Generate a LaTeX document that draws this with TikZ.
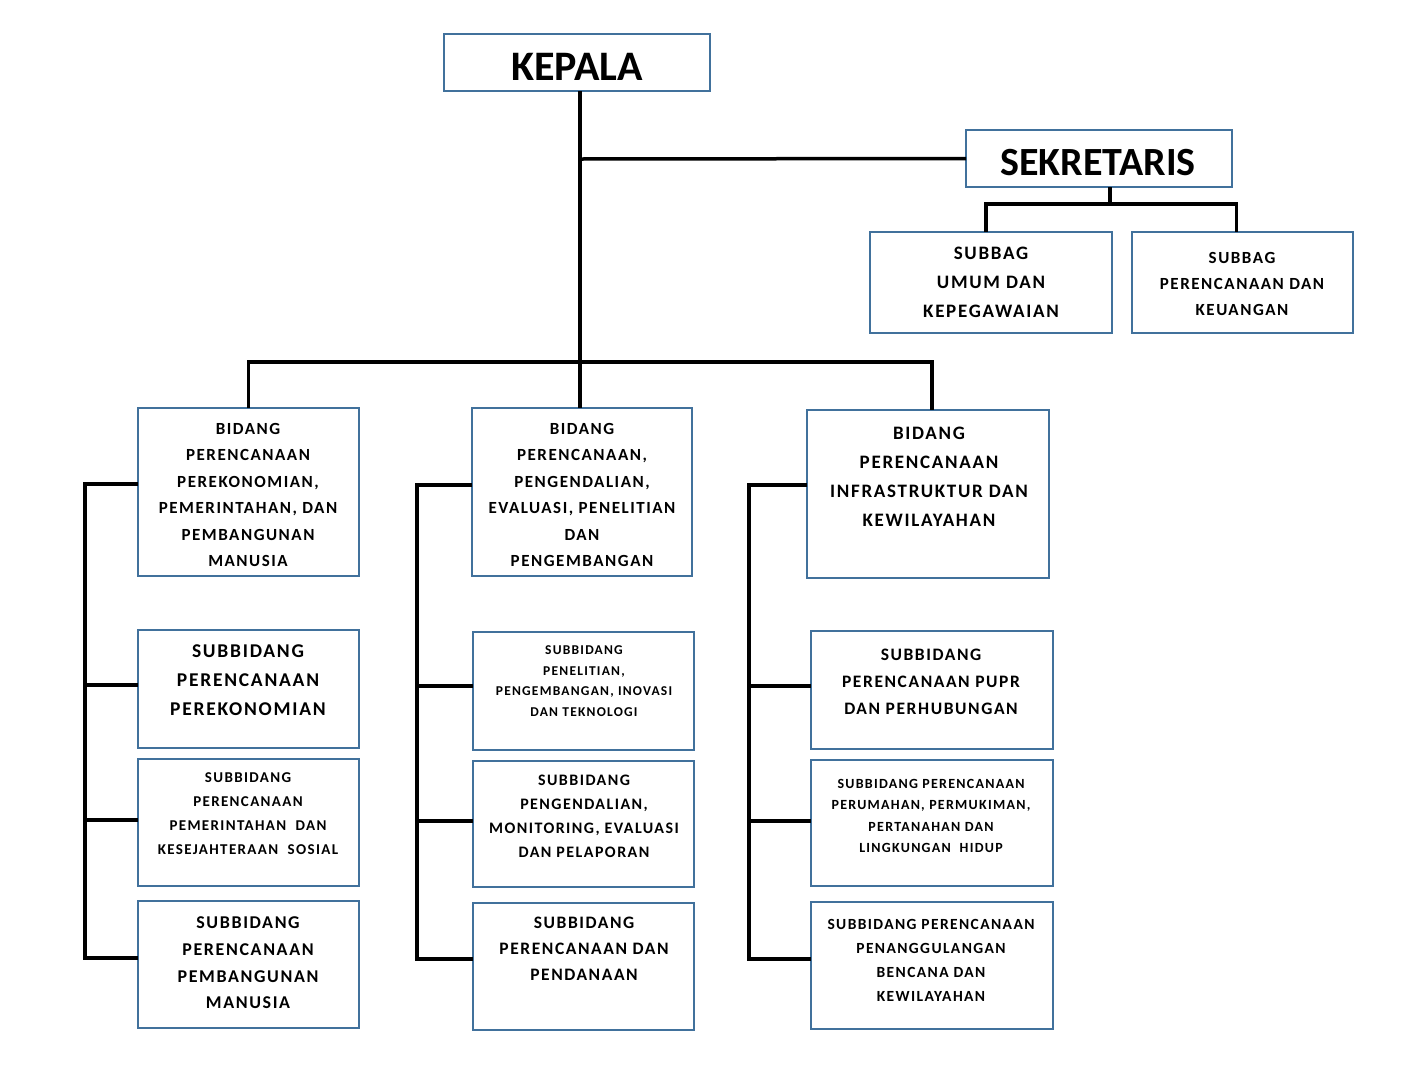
\documentclass[tikz,border=0pt]{standalone}
\usepackage{fontspec}
\setmainfont{Carlito}
\newfontfamily\lsfont{Carlito}[LetterSpace=9]
\definecolor{bxblue}{HTML}{41719C}
\tikzset{
  bx/.style={draw=bxblue, line width=2pt, fill=white, inner sep=0pt, outer sep=0pt},
  txt/.style={inner sep=0pt, align=center},
  conn/.style={line width=3.5pt, black},
}
\newcommand{\fs}[2]{\lsfont\bfseries\fontsize{#1}{#2}\selectfont}
% \mkbox{name}{x1}{y1}{x2}{y2}
\newcommand{\mkbox}[5]{%
  \pgfmathsetmacro{\bw}{#4-#2}\pgfmathsetmacro{\bh}{#5-#3}%
  \pgfmathsetmacro{\bcx}{(#2+#4)/2}\pgfmathsetmacro{\bcy}{(#3+#5)/2}%
  \node[bx, minimum width=\bw pt, minimum height=\bh pt] (#1) at (\bcx,\bcy) {};}
\begin{document}
\begin{tikzpicture}[x=1pt,y=-1pt]
\useasboundingbox[fill=white] (0,0) rectangle (1402,1090);
% boxes
\mkbox{kepala}{444}{34}{710}{91}
\mkbox{sek}{966}{130}{1232}{187}
\mkbox{sb1}{870}{232}{1112}{333}
\mkbox{sb2}{1132}{232}{1353}{333}
\mkbox{b1}{138}{408}{359}{576}
\mkbox{b2}{472}{408}{692}{576}
\mkbox{b3}{807}{410}{1049}{578}
\mkbox{s11}{138}{630}{359}{748}
\mkbox{s12}{138}{759}{359}{886}
\mkbox{s13}{138}{901}{359}{1028}
\mkbox{s21}{473}{632}{694}{750}
\mkbox{s22}{473}{761}{694}{887}
\mkbox{s23}{473}{903}{694}{1030}
\mkbox{s31}{811}{631}{1053}{749}
\mkbox{s32}{811}{760}{1053}{886}
\mkbox{s33}{811}{902}{1053}{1029}
% texts
\node[txt, font=\bfseries\fontsize{42}{48}\selectfont] (kepala-t) at (577,67) {KEPALA};
\node[txt, font=\bfseries\fontsize{40}{44}\selectfont] (sek-t) at (1098,163) {SEKRETARIS};
\node[txt, font=\fs{19}{29}] (sb1-t) at (991,282) {SUBBAG\\UMUM DAN\\KEPEGAWAIAN};
\node[txt, font=\fs{17}{26}] (sb2-t) at (1242,284) {SUBBAG\\PERENCANAAN DAN\\KEUANGAN};
\node[txt, font=\fs{17}{26.4}] (b1-t) at (248,495) {BIDANG\\PERENCANAAN\\PEREKONOMIAN,\\PEMERINTAHAN, DAN\\PEMBANGUNAN\\MANUSIA};
\node[txt, font=\fs{17}{26.4}] (b2-t) at (582,495) {BIDANG\\PERENCANAAN,\\PENGENDALIAN,\\EVALUASI, PENELITIAN\\DAN\\PENGEMBANGAN};
\node[txt, font=\fs{19}{29}] (b3-t) at (929,477) {BIDANG\\PERENCANAAN\\INFRASTRUKTUR DAN\\KEWILAYAHAN};
\node[txt, font=\fs{19.5}{29}] (s11-t) at (248,680) {SUBBIDANG\\PERENCANAAN\\PEREKONOMIAN};
\node[txt, font=\fs{15}{24}] (s12-t) at (248,814) {SUBBIDANG\\PERENCANAAN\\PEMERINTAHAN\ \ DAN\\KESEJAHTERAAN\ \ SOSIAL};
\node[txt, font=\fs{18}{26.7}] (s13-t) at (248,963) {SUBBIDANG\\PERENCANAAN\\PEMBANGUNAN\\MANUSIA};
\node[txt, font=\fs{13.5}{20.7}] (s21-t) at (584,681) {SUBBIDANG\\PENELITIAN,\\PENGEMBANGAN, INOVASI\\DAN TEKNOLOGI};
\node[txt, font=\fs{16}{24}] (s22-t) at (584,816) {SUBBIDANG\\PENGENDALIAN,\\MONITORING, EVALUASI\\DAN PELAPORAN};
\node[txt, font=\fs{17.5}{26}] (s23-t) at (584,949) {SUBBIDANG\\PERENCANAAN DAN\\PENDANAAN};
\node[txt, font=\fs{17.5}{27}] (s31-t) at (931,682) {SUBBIDANG\\PERENCANAAN PUPR\\DAN PERHUBUNGAN};
\node[txt, font=\fs{14}{21.3}] (s32-t) at (931,816) {SUBBIDANG PERENCANAAN\\PERUMAHAN, PERMUKIMAN,\\PERTANAHAN DAN\\LINGKUNGAN\ \ HIDUP};
\node[txt, font=\fs{15.5}{24}] (s33-t) at (931,960) {SUBBIDANG PERENCANAAN\\PENANGGULANGAN\\BENCANA DAN\\KEWILAYAHAN};
% junctions
\coordinate (j1) at (580,159);
\coordinate (j2) at (580,362);
\coordinate (j3) at (1110,204);
\coordinate (c1) at (85,0);
\coordinate (c2) at (417,0);
\coordinate (c3) at (749,0);
% connectors
\draw[conn] (kepala.south -| j1) -- (b2.north -| j1);
\draw[conn] (j1) -- (sek.west);
\draw[conn] (sek.south -| j3) -- (j3);
\draw[conn] ([xshift=-5pt]sb1.north) |- (j3) -| ([xshift=-6pt]sb2.north);
\draw[conn] (b1.north) |- (j2) -| ([xshift=4pt]b3.north);
\draw[conn] ([yshift=8pt]b1.west) -| ([yshift=6.5pt]s13.west -| c1) -- ([yshift=6.5pt]s13.west);
\draw[conn] ([yshift=4pt]s11.west -| c1) -- ([yshift=4pt]s11.west);
\draw[conn] ([yshift=2.5pt]s12.west -| c1) -- ([yshift=2.5pt]s12.west);
\draw[conn] ([yshift=7pt]b2.west) -| ([yshift=7.5pt]s23.west -| c2) -- ([yshift=7.5pt]s23.west);
\draw[conn] ([yshift=5pt]s21.west -| c2) -- ([yshift=5pt]s21.west);
\draw[conn] ([yshift=3pt]s22.west -| c2) -- ([yshift=3pt]s22.west);
\draw[conn] ([yshift=9pt]b3.west) -| ([yshift=6.5pt]s33.west -| c3) -- ([yshift=6.5pt]s33.west);
\draw[conn] ([yshift=4pt]s31.west -| c3) -- ([yshift=4pt]s31.west);
\draw[conn] ([yshift=2pt]s32.west -| c3) -- ([yshift=2pt]s32.west);
\end{tikzpicture}
\end{document}
